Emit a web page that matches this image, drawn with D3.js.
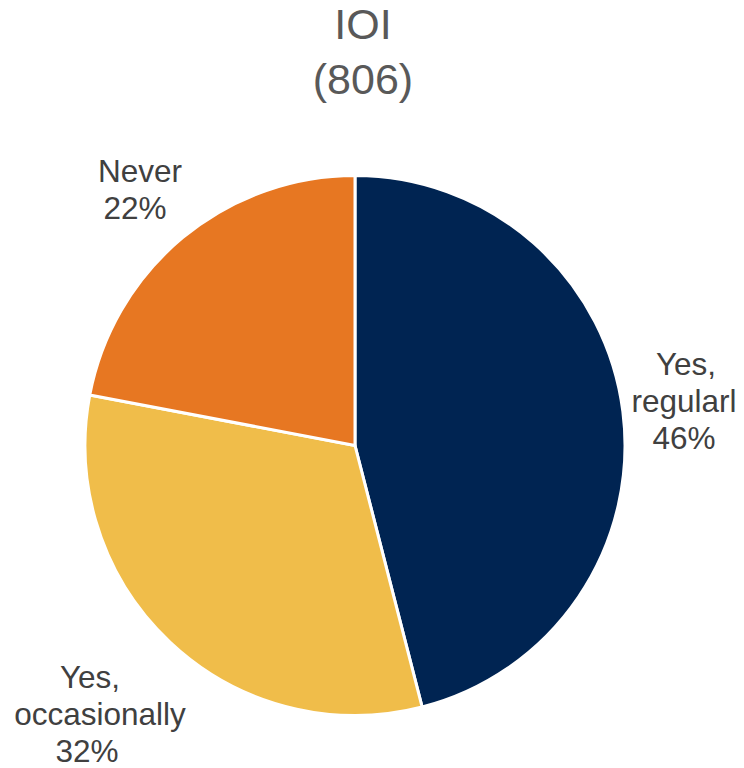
<!DOCTYPE html>
<html><head><meta charset="utf-8">
<script src="https://cdn.jsdelivr.net/npm/d3@7"></script>
<style>html,body{margin:0;padding:0;background:#fff;}svg{display:block;}</style>
</head><body>
<script>
const titleLines = ["IOI", "(806)"];
const categories = ["Yes, regularly", "Yes, occasionally", "Never"];
const labelLines = [["Yes,", "regularl"], ["Yes,", "occasionally"], ["Never"]];
const values = [46, 32, 22];
const colors = ["#002452", "#F0BD4A", "#E77722"];
// per-line label anchor x positions and first baseline y
const labelX = [[686, 684, 684], [90, 100, 87], [140, 135]];
const labelY = [375, 688, 182];

const W = 744, H = 768;
const svg = d3.select("body").append("svg").attr("width", W).attr("height", H);

svg.append("g").selectAll("text").data(titleLines).join("text")
  .attr("x", 363).attr("y", (d, i) => 39 + i * 55)
  .attr("text-anchor", "middle")
  .attr("font-family", "Liberation Sans, Arial, sans-serif")
  .attr("font-size", 43).attr("fill", "#595959").text(d => d);

const cx = 355, cy = 445.5, r = 270;
const pie = d3.pie().sort(null).value(d => d);
const arc = d3.arc().innerRadius(0).outerRadius(r);
const g = svg.append("g").attr("transform", `translate(${cx},${cy})`);
g.selectAll("path").data(pie(values)).join("path")
  .attr("d", arc).attr("fill", (d, i) => colors[i])
  .attr("stroke", "#fff").attr("stroke-width", 3).attr("stroke-linejoin", "round");

const lg = svg.append("g");
values.forEach((v, i) => {
  const lines = labelLines[i].concat([v + "%"]);
  const t = lg.append("text")
    .attr("font-family", "Liberation Sans, Arial, sans-serif")
    .attr("font-size", 31.5).attr("fill", "#404040")
    .attr("text-anchor", "middle");
  lines.forEach((l, j) => {
    t.append("tspan").attr("x", labelX[i][j]).attr("y", labelY[i] + j * 37).text(l);
  });
});
</script>
</body></html>
